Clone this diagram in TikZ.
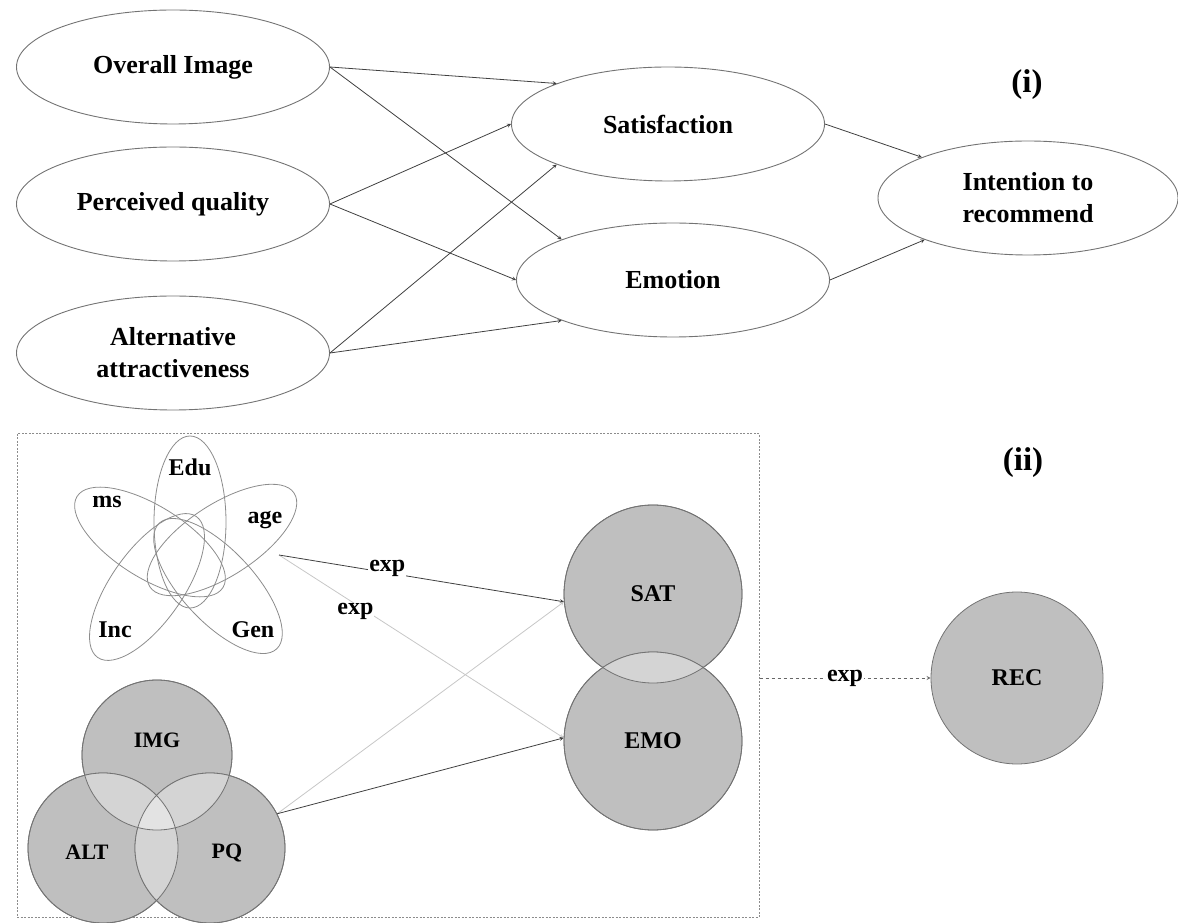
\documentclass[tikz,border=0pt]{standalone}
\usepackage{fontspec}
\setmainfont{Liberation Serif}
\usetikzlibrary{positioning}
\usetikzlibrary{arrows}
\usetikzlibrary{shapes.geometric}
\colorlet{rimc}{black!55}
\colorlet{linec}{black!75}
\colorlet{lightc}{black!22}
\colorlet{circc}{black!25}
\colorlet{pairc}{black!17}
\colorlet{triplec}{black!11}
\tikzset{
  construct/.style={ellipse, draw=rimc, line width=0.9pt, minimum width=313pt, minimum height=114pt,
    inner sep=0pt, align=center, font=\fontsize{26}{32}\selectfont\bfseries},
  latent/.style={circle, draw=rimc, fill=circc, line width=0.8pt, inner sep=0pt,
    font=\fontsize{24}{28}\selectfont\bfseries},
  petal/.style={draw=black!45, line width=0.8pt},
  demog/.style={font=\fontsize{24}{28}\selectfont\bfseries, inner sep=0pt},
  venn/.style={font=\fontsize{22}{26}\selectfont\bfseries, inner sep=0pt},
  tag/.style={font=\fontsize{33}{38}\selectfont\bfseries},
  link/.style={draw=linec, line width=0.8pt, -stealth},
  lbl/.style={fill=white, inner sep=1pt, font=\fontsize{24}{28}\selectfont\bfseries},
}

\begin{document}
\begin{tikzpicture}[x=1pt,y=1pt]
\useasboundingbox (0,0) rectangle (1178,922);

% (i)
\node[construct] (img) at (173,855) {Overall Image};
\node[construct] (per) at (173,718) {Perceived quality};
\node[construct] (alt) at (173,569) {Alternative\\attractiveness};
\node[construct] (sat) at (668,798) {Satisfaction};
\node[construct] (emo) at (673,642) {Emotion};
\node[construct, minimum width=300pt] (itr) at (1028,724) {Intention to\\recommend};
\node[tag] (tagi) at (1027,837) {(i)};

\draw[link] (img.east) -- (sat.160);
\draw[link] (img.east) -- (emo.160);
\draw[link] (per.east) -- (sat.180);
\draw[link] (per.east) -- (emo.180);
\draw[link] (alt.east) -- (sat.200);
\draw[link] (alt.east) -- (emo.200);
\draw[link] (sat.east) -- (itr.159);
\draw[link] (emo.east) -- (itr.202);

% (ii)
\node[draw=black!45, line width=1pt, dash pattern=on 2pt off 1.5pt, minimum width=742pt,
  minimum height=483pt, inner sep=0pt] (grp) at (388,246.5) {};
\node[tag] (tagii) at (1023,459) {(ii)};

\foreach \px/\py/\ang in {190/400/90, 150/380/148, 222/382/33, 147/335/55, 218/336/-47}
  \draw[petal, shift={(\px,\py)}, rotate=\ang] (0,0) ellipse (86 and 36);
\node[demog] (edu) at (190,455) {Edu};
\node[demog] (ms) at (107,420) {ms};
\node[demog] (age) at (265,402) {age};
\node[demog] (inc) at (115,292) {Inc};
\node[demog] (gen) at (253,292) {Gen};
\coordinate (dem) at (279,367);

\node[latent, minimum size=150pt] (img2) at (157,167) {};
\node[latent, minimum size=150pt] (alt2) at (103,74) {};
\node[latent, minimum size=150pt] (pq2) at (210,74) {};
\begin{scope}
\clip (img2.center) circle (75);
\fill[pairc] (alt2.center) circle (75);
\fill[pairc] (pq2.center) circle (75);
\end{scope}
\begin{scope}
\clip (alt2.center) circle (75);
\fill[pairc] (pq2.center) circle (75);
\end{scope}
\begin{scope}
\clip (img2.center) circle (75);
\clip (alt2.center) circle (75);
\fill[triplec] (pq2.center) circle (75);
\end{scope}
\foreach \c in {img2,alt2,pq2}
  \draw[rimc, line width=0.8pt] (\c.center) circle (75);
\node[venn] (imgt) at (157,182) {IMG};
\node[venn] (altt) at (87,70) {ALT};
\node[venn] (pqt) at (227,69) {PQ};

\node[latent, minimum size=178pt] (sat2) at (653,328) {SAT};
\node[latent, minimum size=178pt] (emo2) at (653,181) {EMO};
\begin{scope}
\clip (sat2.center) circle (89);
\fill[pairc] (emo2.center) circle (89);
\end{scope}
\draw[rimc, line width=0.8pt] (sat2.center) circle (89);
\draw[rimc, line width=0.8pt] (emo2.center) circle (89);

\node[latent, minimum size=172pt] (rec) at (1017,244) {REC};

\draw[link, draw=lightc] (dem) -- node[pos=0.3, lbl, xshift=-9pt, yshift=-2pt] {exp} (emo2.178);
\draw[link] (dem) -- node[pos=0.38, lbl, yshift=4pt] {exp} (sat2.185);
\draw[link, draw=lightc] (pq2.27) -- (sat2.185);
\draw[link] (pq2.27) -- (emo2.178);
\draw[link, dashed, draw=black!60] (grp.east |- rec.west) -- node[lbl] {exp} (rec.west);
\end{tikzpicture}
\end{document}
